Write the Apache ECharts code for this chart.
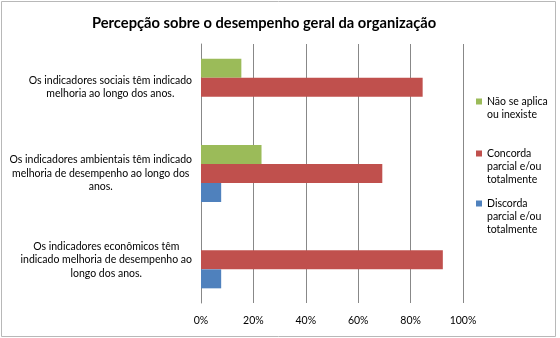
<!DOCTYPE html>
<html>
<head>
<meta charset="utf-8">
<script src="https://cdn.jsdelivr.net/npm/echarts@6/dist/echarts.min.js"></script>
<style>
  html, body { margin: 0; padding: 0; background: #fff; }
  #chart { width: 560px; height: 338px; }
</style>
</head>
<body>
<div id="chart"></div>
<script>
// Statements, listed bottom to top as they appear on the category axis
var categories = [
  'Os indicadores econômicos têm\nindicado melhoria de desempenho ao\nlongo dos anos.',
  'Os indicadores ambientais têm indicado\nmelhoria de desempenho ao longo dos\nanos.',
  'Os indicadores sociais têm indicado\nmelhoria ao longo dos anos.'
];

var seriesNames = [
  'Não se aplica ou inexiste',
  'Concorda parcial e/ou totalmente',
  'Discorda parcial e/ou totalmente'
];

// Share of answers (%) per statement
var naoSeAplica = [0, 23.1, 15.4];
var concorda = [92.3, 69.2, 84.6];
var discorda = [7.7, 7.7, 0];

var xTicks = [0, 20, 40, 60, 80, 100];

// Wrapped legend texts
var legendText = {
  'Não se aplica ou inexiste': 'Não se aplica\nou inexiste',
  'Concorda parcial e/ou totalmente': 'Concorda\nparcial e/ou\ntotalmente',
  'Discorda parcial e/ou totalmente': 'Discorda\nparcial e/ou\ntotalmente'
};

var colors = ['#9BBB59', '#C0504D', '#4F81BD'];
var FONT = 'Lato';
var LEGEND_LINE = 13;

// One legend block per series: the swatch sits beside the first text line,
// so the icon path is as tall as the wrapped text with the square at its top.
function legendFor(name, top) {
  var lines = legendText[name].split('\n').length;
  var h = lines * LEGEND_LINE;
  return {
    orient: 'vertical',
    left: 476,
    top: top,
    padding: 0,
    itemWidth: 6,
    itemHeight: h,
    itemGap: 0,
    icon: 'path://M0,0h0.01v0.01h-0.01z M0,3.5h6v6h-6z M5.99,' + h + 'h0.01v-0.01h-0.01z',
    selectedMode: false,
    data: [name],
    formatter: function (n) { return legendText[n]; },
    textStyle: {
      fontFamily: FONT,
      fontSize: 10.5,
      lineHeight: LEGEND_LINE,
      color: '#000'
    }
  };
}

var chart = echarts.init(document.getElementById('chart'), null, { renderer: 'canvas' });

var option = {
  animation: false,
  backgroundColor: '#fff',
  color: colors,
  title: {
    text: 'Percepção sobre o desempenho geral da organização',
    left: 87,
    top: 11,
    textStyle: { fontFamily: FONT, fontSize: 14.7, fontWeight: 'bold', color: '#000' }
  },
  graphic: [{
    type: 'rect',
    shape: { x: 1.5, y: 1.5, width: 554, height: 335 },
    style: { fill: 'none', stroke: '#b8b8b8', lineWidth: 1 },
    silent: true
  }],
  legend: [
    legendFor('Não se aplica ou inexiste', 95),
    legendFor('Concorda parcial e/ou totalmente', 147),
    legendFor('Discorda parcial e/ou totalmente', 197)
  ],
  grid: { left: 201, right: 97, top: 44, bottom: 35, containLabel: false },
  xAxis: {
    type: 'value',
    min: 0,
    max: 100,
    interval: 20,
    axisLine: { show: false },
    axisTick: { show: false },
    axisLabel: {
      margin: 12,
      fontFamily: FONT,
      fontSize: 10.5,
      color: '#000',
      customValues: xTicks,
      formatter: function (v) { return v + '%'; }
    },
    splitLine: { show: true, lineStyle: { color: '#888', width: 1 } }
  },
  yAxis: {
    type: 'category',
    data: categories,
    axisLine: { show: true, lineStyle: { color: '#888' } },
    axisTick: { show: false },
    axisLabel: {
      margin: 9,
      align: 'right',
      fontFamily: FONT,
      fontSize: 10.5,
      lineHeight: 13.5,
      color: '#000',
      formatter: function (v) {
        return v.split('\n').map(function (l) { return '{c|' + l + '}'; }).join('\n');
      },
      rich: { c: { align: 'center', fontFamily: FONT, fontSize: 10.5, lineHeight: 13.5, color: '#000' } }
    }
  },
  series: [
    { name: seriesNames[0], type: 'bar', data: naoSeAplica, barWidth: 19, barGap: '0%' },
    { name: seriesNames[1], type: 'bar', data: concorda, barWidth: 19, barGap: '0%' },
    { name: seriesNames[2], type: 'bar', data: discorda, barWidth: 19, barGap: '0%' }
  ]
};

chart.setOption(option);
</script>
</body>
</html>
